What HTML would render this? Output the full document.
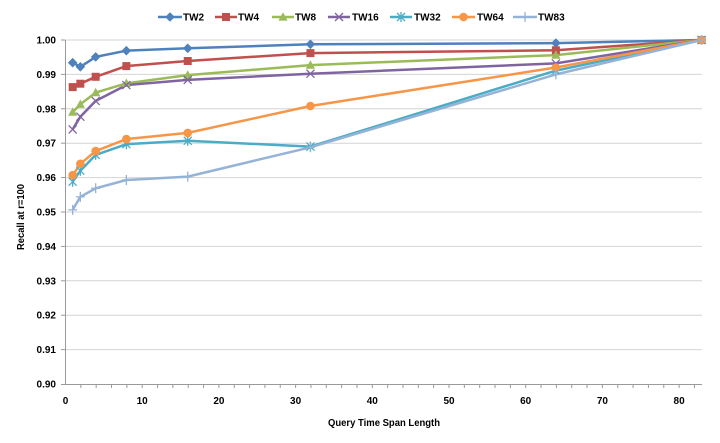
<!DOCTYPE html>
<html><head><meta charset="utf-8"><style>
html,body{margin:0;padding:0;background:#fff;}
svg{display:block;font-family:"Liberation Sans",sans-serif;font-weight:bold;}
</style></head><body>
<svg width="720" height="443" viewBox="0 0 720 443" xmlns="http://www.w3.org/2000/svg">
<defs>
<g id="mDia"><path d="M0,-4.8 L4.8,0 L0,4.8 L-4.8,0 Z"/></g>
<g id="mSq"><rect x="-4" y="-4" width="8" height="8"/></g>
<g id="mTri"><path d="M0,-4.8 L4.6,3.6 L-4.6,3.6 Z"/></g>
<g id="mX"><path d="M-4,-4 L4,4 M-4,4 L4,-4" fill="none" stroke-width="1.3"/></g>
<g id="mAst"><path d="M-4,-4 L4,4 M-4,4 L4,-4 M0,-5 L0,5" fill="none" stroke-width="1.3"/></g>
<g id="mCir"><circle r="4.3"/></g>
<g id="mPlus"><path d="M-4.5,0 L4.5,0 M0,-5 L0,5" fill="none" stroke-width="1.3"/></g>
</defs>
<!-- gridlines -->
<g stroke="#d4d4d4" stroke-width="1">
<line x1="65" y1="40" x2="702" y2="40"/>
<line x1="65" y1="74.4" x2="702" y2="74.4"/>
<line x1="65" y1="108.8" x2="702" y2="108.8"/>
<line x1="65" y1="143.2" x2="702" y2="143.2"/>
<line x1="65" y1="177.6" x2="702" y2="177.6"/>
<line x1="65" y1="212" x2="702" y2="212"/>
<line x1="65" y1="246.4" x2="702" y2="246.4"/>
<line x1="65" y1="280.8" x2="702" y2="280.8"/>
<line x1="65" y1="315.2" x2="702" y2="315.2"/>
<line x1="65" y1="349.6" x2="702" y2="349.6"/>
</g>
<!-- axes -->
<g stroke="#9a9a9a" stroke-width="1">
<line x1="65.5" y1="40" x2="65.5" y2="384"/>
<line x1="65" y1="384.5" x2="702" y2="384.5"/>
<line x1="61" y1="40" x2="65" y2="40"/>
<line x1="61" y1="74.4" x2="65" y2="74.4"/>
<line x1="61" y1="108.8" x2="65" y2="108.8"/>
<line x1="61" y1="143.2" x2="65" y2="143.2"/>
<line x1="61" y1="177.6" x2="65" y2="177.6"/>
<line x1="61" y1="212" x2="65" y2="212"/>
<line x1="61" y1="246.4" x2="65" y2="246.4"/>
<line x1="61" y1="280.8" x2="65" y2="280.8"/>
<line x1="61" y1="315.2" x2="65" y2="315.2"/>
<line x1="61" y1="349.6" x2="65" y2="349.6"/>
<line x1="61" y1="384.5" x2="65" y2="384.5"/>
</g>
<g stroke="#9a9a9a" stroke-width="1" id="xticks"></g>
<!-- y labels -->
<g font-size="10" fill="#000" text-anchor="end">
<text x="56" y="43.5">1.00</text>
<text x="56" y="77.9">0.99</text>
<text x="56" y="112.3">0.98</text>
<text x="56" y="146.7">0.97</text>
<text x="56" y="181.1">0.96</text>
<text x="56" y="215.5">0.95</text>
<text x="56" y="249.9">0.94</text>
<text x="56" y="284.3">0.93</text>
<text x="56" y="318.7">0.92</text>
<text x="56" y="353.1">0.91</text>
<text x="56" y="387.5">0.90</text>
</g>
<!-- x labels -->
<g font-size="10" fill="#000" text-anchor="middle">
<text x="65.5" y="404">0</text>
<text x="142.2" y="404">10</text>
<text x="218.9" y="404">20</text>
<text x="295.6" y="404">30</text>
<text x="372.3" y="404">40</text>
<text x="449" y="404">50</text>
<text x="525.7" y="404">60</text>
<text x="602.4" y="404">70</text>
<text x="679.1" y="404">80</text>
</g>
<text x="328" y="426" font-size="10" textLength="112" lengthAdjust="spacingAndGlyphs">Query Time Span Length</text>
<text transform="translate(24,250) rotate(-90)" font-size="10" textLength="66" lengthAdjust="spacingAndGlyphs">Recall at r=100</text>

<!-- series -->
<g fill="none" stroke-width="2.5" stroke-linejoin="round">
<polyline stroke="#4F81BD" points="72.67,62.7 80.34,66.8 95.68,56.9 126.36,50.7 187.72,48.3 310.44,44.3 555.88,43.1 701.61,40"/>
<polyline stroke="#C0504D" points="72.67,87.1 80.34,83.7 95.68,76.8 126.36,66.1 187.72,61.0 310.44,53.1 555.88,50.3 701.61,40"/>
<polyline stroke="#9BBB59" points="72.67,112.2 80.34,104.3 95.68,92.6 126.36,83.3 187.72,75.1 310.44,65.1 555.88,55.1 701.61,40"/>
<polyline stroke="#8064A2" points="72.67,129.4 80.34,116.7 95.68,100.9 126.36,85.1 187.72,79.9 310.44,73.7 555.88,63.4 701.61,40"/>
<polyline stroke="#4BACC6" points="72.67,181.7 80.34,170.7 95.68,154.9 126.36,144.2 187.72,140.8 310.44,146.6 555.88,70.6 701.61,40"/>
<polyline stroke="#F79646" points="72.67,175.2 80.34,163.8 95.68,151.1 126.36,139.1 187.72,132.9 310.44,106.0 555.88,67.5 701.61,40"/>
<polyline stroke="#95B3D7" points="72.67,209.9 80.34,196.9 95.68,188.3 126.36,180.0 187.72,176.6 310.44,147.3 555.88,74.4 701.61,40"/>
</g>
<!-- markers -->
<g fill="#4F81BD">
<use href="#mDia" x="72.67" y="62.7"/><use href="#mDia" x="80.34" y="66.8"/><use href="#mDia" x="95.68" y="56.9"/><use href="#mDia" x="126.36" y="50.7"/><use href="#mDia" x="187.72" y="48.3"/><use href="#mDia" x="310.44" y="44.3"/><use href="#mDia" x="555.88" y="43.1"/><use href="#mDia" x="701.61" y="40"/>
</g>
<g fill="#C0504D">
<use href="#mSq" x="72.67" y="87.1"/><use href="#mSq" x="80.34" y="83.7"/><use href="#mSq" x="95.68" y="76.8"/><use href="#mSq" x="126.36" y="66.1"/><use href="#mSq" x="187.72" y="61.0"/><use href="#mSq" x="310.44" y="53.1"/><use href="#mSq" x="555.88" y="50.3"/><use href="#mSq" x="701.61" y="40"/>
</g>
<g fill="#9BBB59">
<use href="#mTri" x="72.67" y="112.2"/><use href="#mTri" x="80.34" y="104.3"/><use href="#mTri" x="95.68" y="92.6"/><use href="#mTri" x="126.36" y="83.3"/><use href="#mTri" x="187.72" y="75.1"/><use href="#mTri" x="310.44" y="65.1"/><use href="#mTri" x="555.88" y="55.1"/><use href="#mTri" x="701.61" y="40"/>
</g>
<g stroke="#8064A2">
<use href="#mX" x="72.67" y="129.4"/><use href="#mX" x="80.34" y="116.7"/><use href="#mX" x="95.68" y="100.9"/><use href="#mX" x="126.36" y="85.1"/><use href="#mX" x="187.72" y="79.9"/><use href="#mX" x="310.44" y="73.7"/><use href="#mX" x="555.88" y="63.4"/><use href="#mX" x="701.61" y="40"/>
</g>
<g stroke="#4BACC6">
<use href="#mAst" x="72.67" y="181.7"/><use href="#mAst" x="80.34" y="170.7"/><use href="#mAst" x="95.68" y="154.9"/><use href="#mAst" x="126.36" y="144.2"/><use href="#mAst" x="187.72" y="140.8"/><use href="#mAst" x="310.44" y="146.6"/><use href="#mAst" x="555.88" y="70.6"/><use href="#mAst" x="701.61" y="40"/>
</g>
<g fill="#F79646">
<use href="#mCir" x="72.67" y="175.2"/><use href="#mCir" x="80.34" y="163.8"/><use href="#mCir" x="95.68" y="151.1"/><use href="#mCir" x="126.36" y="139.1"/><use href="#mCir" x="187.72" y="132.9"/><use href="#mCir" x="310.44" y="106.0"/><use href="#mCir" x="555.88" y="67.5"/><use href="#mCir" x="701.61" y="40"/>
</g>
<g stroke="#95B3D7">
<use href="#mPlus" x="72.67" y="209.9"/><use href="#mPlus" x="80.34" y="196.9"/><use href="#mPlus" x="95.68" y="188.3"/><use href="#mPlus" x="126.36" y="180.0"/><use href="#mPlus" x="187.72" y="176.6"/><use href="#mPlus" x="310.44" y="147.3"/><use href="#mPlus" x="555.88" y="74.4"/><use href="#mPlus" x="701.61" y="40"/>
</g>
<g stroke="#9a9a9a" stroke-width="1">
<line x1="80.84" y1="384" x2="80.84" y2="388"/><line x1="96.18" y1="384" x2="96.18" y2="388"/><line x1="111.52" y1="384" x2="111.52" y2="388"/><line x1="126.86" y1="384" x2="126.86" y2="388"/><line x1="142.2" y1="384" x2="142.2" y2="388"/><line x1="157.54" y1="384" x2="157.54" y2="388"/><line x1="172.88" y1="384" x2="172.88" y2="388"/><line x1="188.22" y1="384" x2="188.22" y2="388"/><line x1="203.56" y1="384" x2="203.56" y2="388"/><line x1="218.9" y1="384" x2="218.9" y2="388"/><line x1="234.24" y1="384" x2="234.24" y2="388"/><line x1="249.58" y1="384" x2="249.58" y2="388"/><line x1="264.92" y1="384" x2="264.92" y2="388"/><line x1="280.26" y1="384" x2="280.26" y2="388"/><line x1="295.6" y1="384" x2="295.6" y2="388"/><line x1="310.94" y1="384" x2="310.94" y2="388"/><line x1="326.28" y1="384" x2="326.28" y2="388"/><line x1="341.62" y1="384" x2="341.62" y2="388"/><line x1="356.96" y1="384" x2="356.96" y2="388"/><line x1="372.3" y1="384" x2="372.3" y2="388"/><line x1="387.64" y1="384" x2="387.64" y2="388"/><line x1="402.98" y1="384" x2="402.98" y2="388"/><line x1="418.32" y1="384" x2="418.32" y2="388"/><line x1="433.66" y1="384" x2="433.66" y2="388"/><line x1="449" y1="384" x2="449" y2="388"/><line x1="464.34" y1="384" x2="464.34" y2="388"/><line x1="479.68" y1="384" x2="479.68" y2="388"/><line x1="495.02" y1="384" x2="495.02" y2="388"/><line x1="510.36" y1="384" x2="510.36" y2="388"/><line x1="525.7" y1="384" x2="525.7" y2="388"/><line x1="541.04" y1="384" x2="541.04" y2="388"/><line x1="556.38" y1="384" x2="556.38" y2="388"/><line x1="571.72" y1="384" x2="571.72" y2="388"/><line x1="587.06" y1="384" x2="587.06" y2="388"/><line x1="602.4" y1="384" x2="602.4" y2="388"/><line x1="617.74" y1="384" x2="617.74" y2="388"/><line x1="633.08" y1="384" x2="633.08" y2="388"/><line x1="648.42" y1="384" x2="648.42" y2="388"/><line x1="663.76" y1="384" x2="663.76" y2="388"/><line x1="679.1" y1="384" x2="679.1" y2="388"/><line x1="694.44" y1="384" x2="694.44" y2="388"/>
</g>

<!-- legend -->
<g stroke-width="2.5">
<line x1="158" y1="17" x2="182" y2="17" stroke="#4F81BD"/>
<line x1="215" y1="17" x2="237" y2="17" stroke="#C0504D"/>
<line x1="272" y1="17" x2="294" y2="17" stroke="#9BBB59"/>
<line x1="328" y1="17" x2="350" y2="17" stroke="#8064A2"/>
<line x1="390" y1="17" x2="412" y2="17" stroke="#4BACC6"/>
<line x1="452" y1="17" x2="475" y2="17" stroke="#F79646"/>
<line x1="513" y1="17" x2="537" y2="17" stroke="#95B3D7"/>
</g>
<use href="#mDia" x="170" y="17" fill="#4F81BD"/>
<use href="#mSq" x="226" y="17" fill="#C0504D"/>
<use href="#mTri" x="283" y="17" fill="#9BBB59"/>
<use href="#mX" x="339" y="17" stroke="#8064A2"/>
<use href="#mAst" x="401" y="17" stroke="#4BACC6"/>
<use href="#mCir" x="463.5" y="17" fill="#F79646"/>
<use href="#mPlus" x="525" y="17" stroke="#95B3D7"/>
<g font-size="10" fill="#000">
<text x="183" y="20.5">TW2</text>
<text x="238" y="20.5">TW4</text>
<text x="295" y="20.5">TW8</text>
<text x="352" y="20.5">TW16</text>
<text x="414" y="20.5">TW32</text>
<text x="477" y="20.5">TW64</text>
<text x="538" y="20.5">TW83</text>
</g>
</svg>
</body></html>
